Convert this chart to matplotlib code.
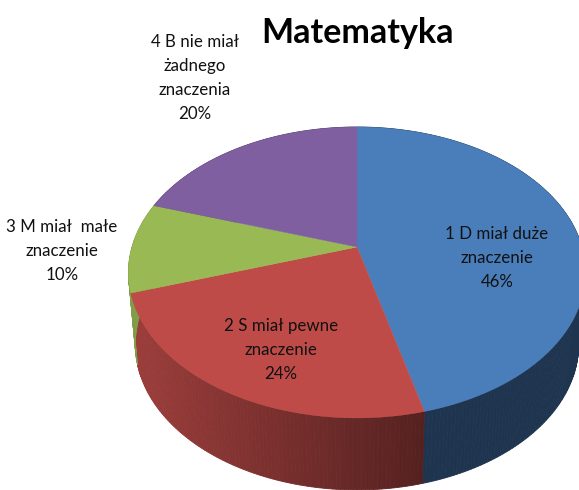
"""3D style pie chart of survey answers for Matematyka."""

import matplotlib

matplotlib.use("Agg")
import matplotlib.pyplot as plt
import numpy as np
from matplotlib.patches import Polygon

title = "Matematyka"
labels = ["1 D miał duże\nznaczenie", "2 S miał pewne\nznaczenie", "3 M miał  małe\nznaczenie", "4 B nie miał\nżadnego\nznaczenia"]
values = [46, 24, 10, 20]

colors = ["#4A7EBB", "#BE4B48", "#98B954", "#7F5F9F"]
# side shade at the left and right end of the picture
side_shades = [(0.42, 0.42), (0.82, 0.44), (0.85, 0.85), (0.6, 0.6)]
label_pos = [(497, 258), (281, 350), (62, 251), (195, 78)]

# projection of the pie disc, in pixels
CX, CY = 357, 247
RX, RY, PERSP = 225, 141, 0.175
DEPTH, SHRINK = 72, 0.97

plt.rcParams["font.family"] = ["Lato", "DejaVu Sans"]


def rim(theta):
    u, v = np.sin(theta), -np.cos(theta)
    s = 1 / (1 - PERSP * v)
    return CX + RX * u * s, CY + RY * v * s


def lower_rim(theta):
    x, y = rim(theta)
    return CX + (x - CX) * SHRINK, y + DEPTH


fig = plt.figure(figsize=(5.79, 4.90), dpi=100)
ax = fig.add_axes([0, 0, 1, 1])
ax.set_xlim(0, 579)
ax.set_ylim(490, 0)
ax.axis("off")

edges = np.concatenate([[0], np.cumsum(values)]) / sum(values) * 2 * np.pi

# sides first, tops go over them
for i, col in enumerate(colors):
    base = np.array(matplotlib.colors.to_rgb(col))
    ts = np.linspace(edges[i], edges[i + 1], max(int(values[i] * 4), 8) + 1)
    for t0, t1 in zip(ts[:-1], ts[1:]):
        x0, y0 = rim(t0)
        x1, y1 = rim(t1)
        x2, y2 = lower_rim(t1)
        x3, y3 = lower_rim(t0)
        f = np.clip(((x0 + x1) / 2 - 132) / (427 - 132), 0, 1)
        shade = side_shades[i][0] + (side_shades[i][1] - side_shades[i][0]) * f
        c = base * shade
        ax.add_patch(Polygon([(x0, y0), (x1, y1), (x2, y2), (x3, y3)], closed=True,
                             facecolor=c, edgecolor=c, linewidth=0.6, zorder=2))

for i, col in enumerate(colors):
    ts = np.linspace(edges[i], edges[i + 1], 120)
    xs, ys = rim(ts)
    pts = [(CX, CY)] + list(zip(xs, ys))
    ax.add_patch(Polygon(pts, closed=True, facecolor=col, edgecolor=col, linewidth=0.3, zorder=3))

for label, value, (x, y) in zip(labels, values, label_pos):
    ax.text(x, y, f"{label}\n{value}%", ha="center", va="center", fontsize=12.2,
            color="#111111", linespacing=1.62, zorder=4)

ax.text(358, 33, title, ha="center", va="center", fontsize=24.5, fontweight="bold",
        color="black", zorder=4)

fig.savefig("out.png", dpi=100)
